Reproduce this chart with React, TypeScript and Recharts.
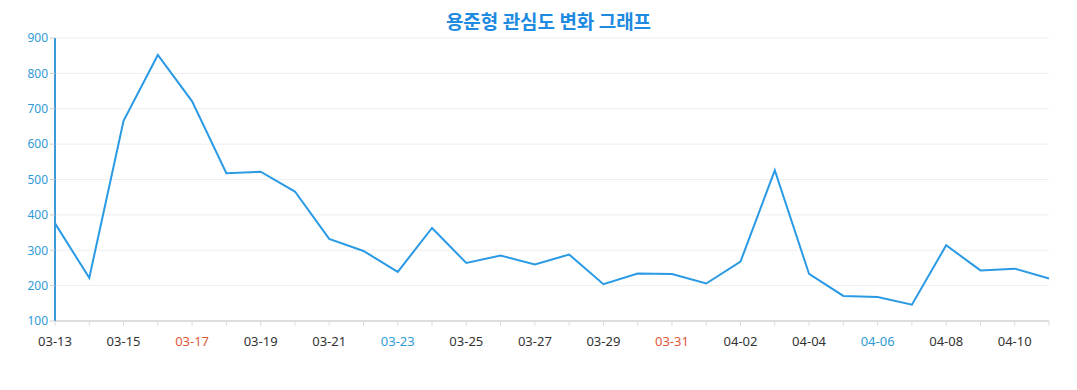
import { LineChart, Line, XAxis, YAxis, CartesianGrid } from "recharts";

const dates = [
  "03-13", "03-14", "03-15", "03-16", "03-17", "03-18", "03-19", "03-20",
  "03-21", "03-22", "03-23", "03-24", "03-25", "03-26", "03-27", "03-28",
  "03-29", "03-30", "03-31", "04-01", "04-02", "04-03", "04-04", "04-05",
  "04-06", "04-07", "04-08", "04-09", "04-10", "04-11",
];

const interest = [
  376, 222, 666, 852, 721, 518, 522, 466, 332, 298, 239, 363, 264, 285, 260,
  288, 204, 234, 233, 206, 268, 526, 233, 171, 168, 146, 314, 243, 248, 220,
];

const yTicks = [100, 200, 300, 400, 500, 600, 700, 800, 900];

// dates with coloured labels
const redDates = ["03-17", "03-31"];
const blueDates = ["03-23", "04-06"];

const data = dates.map((date, i) => ({ date, value: interest[i] }));

const FONT = "'Noto Sans', 'Noto Sans CJK KR', sans-serif";

const DateTick = (props: any) => {
  const { x, y, payload, index } = props;
  if (index % 2 !== 0) return <g />;
  const label = payload.value as string;
  let fill = "#333";
  if (redDates.includes(label)) fill = "#e0583a";
  if (blueDates.includes(label)) fill = "#2f9bd6";
  return (
    <text
      x={x}
      y={y + 18}
      textAnchor="middle"
      fill={fill}
      fontSize={13}
      fontFamily={FONT}
    >
      {label}
    </text>
  );
};

export default function App() {
  return (
    <div
      style={{
        position: "absolute",
        left: 0,
        top: 0,
        width: 1077,
        height: 390,
        background: "#fff",
        fontFamily: FONT,
      }}
    >
      <div
        style={{
          position: "absolute",
          top: 7,
          left: 10,
          width: 1077,
          textAlign: "center",
          fontSize: 19,
          fontWeight: 700,
          color: "#1e8ae0",
          fontFamily: "'Noto Sans CJK KR', sans-serif",
        }}
      >
        용준형 관심도 변화 그래프
      </div>
      <LineChart
        width={1077}
        height={390}
        data={data}
        margin={{ top: 38, right: 28, left: 0, bottom: 39 }}
      >
        <CartesianGrid vertical={false} stroke="#eeeeee" />
        <XAxis
          dataKey="date"
          interval={0}
          height={30}
          tick={<DateTick />}
          axisLine={{ stroke: "#dddddd", strokeWidth: 2 }}
          tickLine={{ stroke: "#dddddd" }}
          tickSize={5}
        />
        <YAxis
          width={55}
          domain={[100, 900]}
          ticks={yTicks}
          tick={{ fill: "#2f9bd6", fontSize: 12, fontFamily: FONT }}
          axisLine={{ stroke: "#3a9ad9", strokeWidth: 2 }}
          tickLine={{ stroke: "#cccccc" }}
          tickSize={5}
        />
        <Line
          type="linear"
          dataKey="value"
          stroke="#2a9ae5"
          strokeWidth={2}
          dot={false}
          isAnimationActive={false}
        />
      </LineChart>
    </div>
  );
}
